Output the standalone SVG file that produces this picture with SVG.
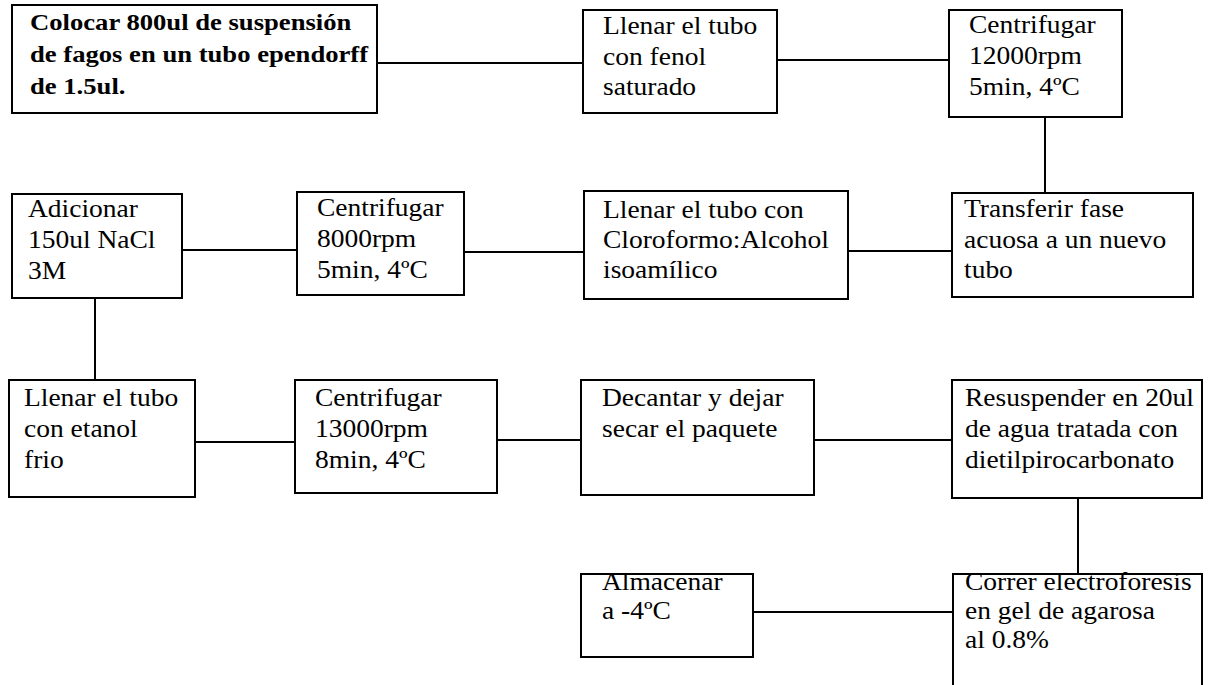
<svg xmlns="http://www.w3.org/2000/svg" width="1222" height="685" viewBox="0 0 1222 685">
<style>
.box{fill:none;stroke:#000;stroke-width:2}
.ln{stroke:#000;stroke-width:2;fill:none}
.t{font-family:"Liberation Serif","Times New Roman",serif;font-size:25px;fill:#000}
.b{font-weight:bold;font-size:24px}
</style>
<rect width="1222" height="685" fill="#fff"/>
<g id="connectors">
<line class="ln" x1="377" y1="63" x2="583" y2="63"/>
<line class="ln" x1="777" y1="60" x2="949" y2="60"/>
<line class="ln" x1="1045" y1="117" x2="1045" y2="193"/>
<line class="ln" x1="182" y1="250" x2="297" y2="250"/>
<line class="ln" x1="464" y1="252" x2="584" y2="252"/>
<line class="ln" x1="848" y1="251" x2="952" y2="251"/>
<line class="ln" x1="95" y1="298" x2="95" y2="380"/>
<line class="ln" x1="195" y1="442" x2="295" y2="442"/>
<line class="ln" x1="497" y1="440" x2="581" y2="440"/>
<line class="ln" x1="814" y1="440" x2="952" y2="440"/>
<line class="ln" x1="1078" y1="498" x2="1078" y2="574"/>
<line class="ln" x1="753" y1="612" x2="953" y2="612"/>
</g>
<g id="n1"><rect class="box" x="12" y="5" width="365" height="108"/>
<text class="t b" transform="translate(30,30) scale(1.11,1)"><tspan x="0" y="0">Colocar 800ul de suspensión</tspan><tspan x="0" y="32">de fagos en un tubo ependorff</tspan><tspan x="0" y="64">de 1.5ul.</tspan></text></g>
<g id="n2"><rect class="box" x="583" y="10" width="194" height="103"/>
<text class="t" transform="translate(603,34) scale(1.1,1)"><tspan x="0" y="0">Llenar el tubo</tspan><tspan x="0" y="31">con fenol</tspan><tspan x="0" y="61">saturado</tspan></text></g>
<g id="n3"><rect class="box" x="949" y="10" width="173" height="107"/>
<text class="t" transform="translate(969,33) scale(1.1,1)"><tspan x="0" y="0">Centrifugar</tspan><tspan x="0" y="31">12000rpm</tspan><tspan x="0" y="62">5min, 4ºC</tspan></text></g>
<g id="n4"><rect class="box" x="12" y="194" width="170" height="104"/>
<text class="t" transform="translate(28,217) scale(1.1,1)"><tspan x="0" y="0">Adicionar</tspan><tspan x="0" y="31">150ul NaCl</tspan><tspan x="0" y="62">3M</tspan></text></g>
<g id="n5"><rect class="box" x="297" y="192" width="167" height="103"/>
<text class="t" transform="translate(317,216) scale(1.1,1)"><tspan x="0" y="0">Centrifugar</tspan><tspan x="0" y="31">8000rpm</tspan><tspan x="0" y="62">5min, 4ºC</tspan></text></g>
<g id="n6"><rect class="box" x="584" y="191" width="264" height="108"/>
<text class="t" transform="translate(603,218) scale(1.1,1)"><tspan x="0" y="0">Llenar el tubo con</tspan><tspan x="0" y="30">Cloroformo:Alcohol</tspan><tspan x="0" y="60">isoamílico</tspan></text></g>
<g id="n7"><rect class="box" x="952" y="193" width="241" height="104"/>
<text class="t" transform="translate(964,217) scale(1.1,1)"><tspan x="0" y="0">Transferir fase</tspan><tspan x="0" y="31">acuosa a un nuevo</tspan><tspan x="0" y="61">tubo</tspan></text></g>
<g id="n8"><rect class="box" x="9" y="380" width="186" height="117"/>
<text class="t" transform="translate(24,406) scale(1.1,1)"><tspan x="0" y="0">Llenar el tubo</tspan><tspan x="0" y="31">con etanol</tspan><tspan x="0" y="62">frio</tspan></text></g>
<g id="n9"><rect class="box" x="295" y="380" width="202" height="113"/>
<text class="t" transform="translate(315,406) scale(1.1,1)"><tspan x="0" y="0">Centrifugar</tspan><tspan x="0" y="31">13000rpm</tspan><tspan x="0" y="62">8min, 4ºC</tspan></text></g>
<g id="n10"><rect class="box" x="581" y="380" width="233" height="115"/>
<text class="t" transform="translate(602,406) scale(1.1,1)"><tspan x="0" y="0">Decantar y dejar</tspan><tspan x="0" y="31">secar el paquete</tspan></text></g>
<g id="n11"><rect class="box" x="952" y="380" width="250" height="118"/>
<text class="t" transform="translate(965,406) scale(1.1,1)"><tspan x="0" y="0">Resuspender en 20ul</tspan><tspan x="0" y="31">de agua tratada con</tspan><tspan x="0" y="62">dietilpirocarbonato</tspan></text></g>
<g id="n12"><rect class="box" x="581" y="574" width="172" height="83"/>
<text class="t" transform="translate(602,590) scale(1.1,1)"><tspan x="0" y="0">Almacenar</tspan><tspan x="0" y="29">a -4ºC</tspan></text></g>
<g id="n13"><rect class="box" x="953" y="574" width="249" height="130"/>
<text class="t" transform="translate(965,590) scale(1.1,1)"><tspan x="0" y="0">Correr electroforesis</tspan><tspan x="0" y="29">en gel de agarosa</tspan><tspan x="0" y="58">al 0.8%</tspan></text></g>
</svg>
